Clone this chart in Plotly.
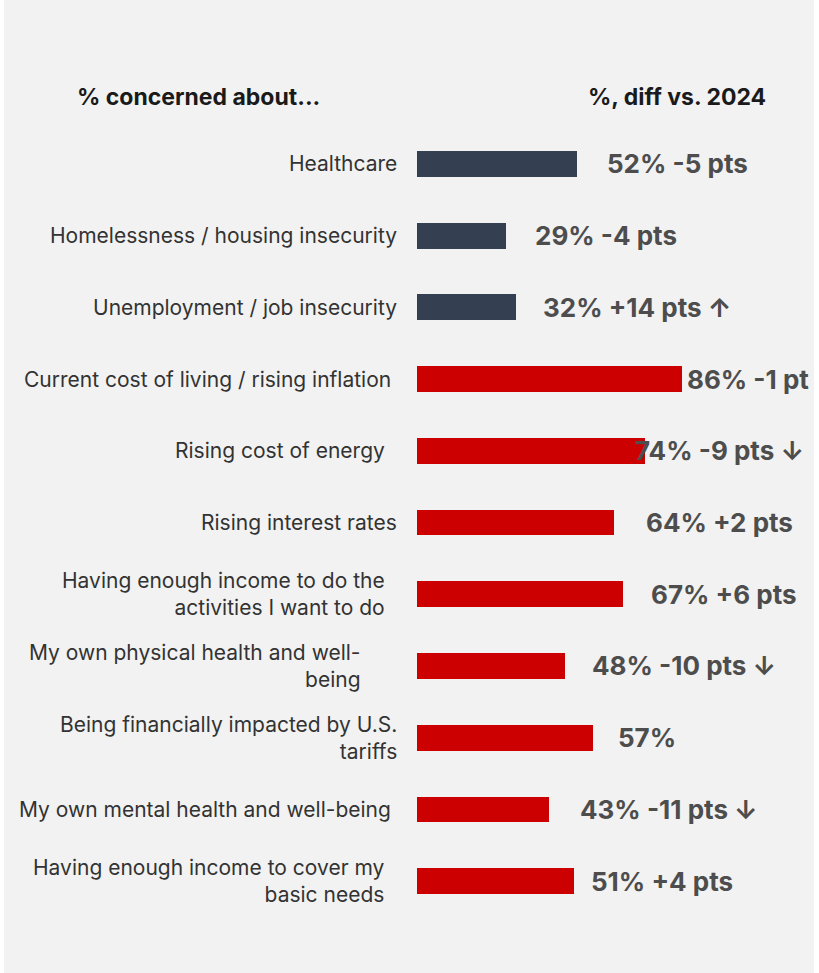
import plotly.graph_objects as go

# ---------------- data ----------------
categories = [
    "Healthcare",
    "Homelessness / housing insecurity",
    "Unemployment / job insecurity",
    "Current cost of living / rising inflation",
    "Rising cost of energy",
    "Rising interest rates",
    "Having enough income to do the<br>activities I want to do",
    "My own physical health and well-<br>being",
    "Being financially impacted by U.S.<br>tariffs",
    "My own mental health and well-being",
    "Having enough income to cover my<br>basic needs",
]
values = [52, 29, 32, 86, 74, 64, 67, 48, 57, 43, 51]
diff_vs_2024 = [-5, -4, 14, -1, -9, 2, 6, -10, None, -11, 4]
trend = ["", "", "up", "", "down", "", "", "down", "", "down", ""]
group = ["societal"] * 3 + ["personal"] * 8

header_left = "% concerned about..."
header_right = "%, diff vs. 2024"

# ---------------- style ----------------
W, H = 819, 973
L, R, T, B = 417, 94, 128, 56
group_colors = {"societal": "#353f52", "personal": "#cc0000"}
label_right_nudge = [0, 0, 0, -6, -12, 0, -12, -36, 0, -6, -12]   # px
value_label_gap = [28, 27, 25, 3, -12, 30, 26, 25, 23, 29, 15]    # px
FONT = "Inter, Roboto, sans-serif"


def fmt_label(v, d, t):
    s = f"{v}%"
    if d is not None:
        unit = "pt" if abs(d) == 1 else "pts"
        s += f" {d:+d} {unit}"
    if t == "up":
        s += " \u2191"
    elif t == "down":
        s += " \u2193"
    return s


colors = [group_colors[g] for g in group]
y_idx = list(range(len(categories)))

fig = go.Figure()
fig.add_trace(go.Bar(
    x=values, y=y_idx, orientation="h",
    marker=dict(color=colors, line=dict(width=0)),
    width=0.36, hoverinfo="skip", showlegend=False,
))

ann = []
for i, (c, v, d, t) in enumerate(zip(categories, values, diff_vs_2024, trend)):
    ann.append(dict(
        x=0, y=i, xref="x", yref="y", text=c, showarrow=False,
        xanchor="right", yanchor="middle", align="right",
        xshift=-18 + label_right_nudge[i],
        font=dict(family=FONT, size=21, color="#333333"),
    ))
    ann.append(dict(
        x=v, y=i, xref="x", yref="y", text=f"<b>{fmt_label(v, d, t)}</b>",
        showarrow=False, xanchor="left", yanchor="middle",
        xshift=value_label_gap[i],
        font=dict(family=FONT, size=26, color="#4d4d4d"),
    ))

pw = W - L - R
ph = H - T - B
def px_x(p):
    return (p - L) / pw
def px_y(p):
    return 1 - (p - T) / ph

ann.append(dict(x=px_x(75), y=px_y(97), xref="paper", yref="paper",
                text=f"<b>{header_left}</b>", showarrow=False,
                xanchor="left", yanchor="middle",
                font=dict(family=FONT, size=23, color="#1a1a1a")))
ann.append(dict(x=px_x(768), y=px_y(97), xref="paper", yref="paper",
                text=f"<b>{header_right}</b>", showarrow=False,
                xanchor="right", yanchor="middle",
                font=dict(family=FONT, size=23, color="#1a1a1a")))

fig.update_layout(
    width=W, height=H,
    margin=dict(l=L, r=R, t=T, b=B, pad=0),
    paper_bgcolor="#ffffff",
    plot_bgcolor="rgba(0,0,0,0)",
    annotations=ann,
    shapes=[dict(type="rect", xref="paper", yref="paper", layer="below",
                 x0=px_x(4), x1=px_x(814), y0=px_y(973), y1=px_y(0),
                 fillcolor="#f2f2f2", line=dict(width=0))],
    xaxis=dict(range=[0, 100], visible=False, fixedrange=True),
    yaxis=dict(range=[len(categories) - 0.5, -0.5], visible=False, fixedrange=True),
    bargap=0,
)

fig.write_html(
    "out.html",
    config={"displayModeBar": False},
    post_script="document.body.style.margin='0';document.body.style.overflow='hidden';",
)
